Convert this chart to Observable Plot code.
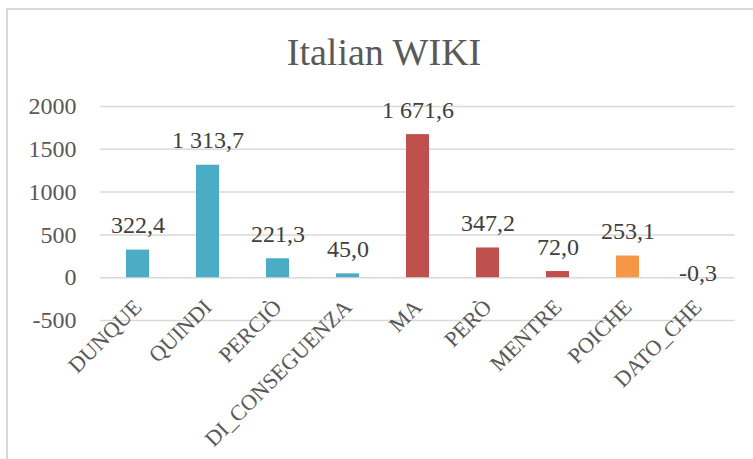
<!DOCTYPE html>
<html>
<head>
<meta charset="utf-8">
<script src="https://cdn.jsdelivr.net/npm/d3@7"></script>
<script src="https://cdn.jsdelivr.net/npm/@observablehq/plot@0.6"></script>
<style>
  html, body { margin: 0; padding: 0; background: #fff; }
  body { width: 753px; height: 459px; overflow: hidden; }
  #wrap {
    margin: 8px 0 0 6px;
    width: 745px;
    border-top: 2px solid #d9d9d9;
    border-left: 2px solid #d9d9d9;
    font-family: "Liberation Serif", serif;
  }
  #title {
    box-sizing: border-box;
    height: 70px;
    padding: 22.5px 0 0 7px;
    text-align: center;
    font-size: 38px;
    line-height: 38px;
    color: #595959;
    white-space: nowrap;
  }
  #plot svg { display: block; }
</style>
</head>
<body>
<div id="wrap">
  <div id="title"></div>
  <div id="plot"></div>
</div>
<script>
// Connective frequencies in the Italian Wikipedia corpus
const titleText = "Italian WIKI";
const categories = ["DUNQUE", "QUINDI", "PERCIÒ", "DI_CONSEGUENZA", "MA", "PERÒ", "MENTRE", "POICHE", "DATO_CHE"];
const values = [322.4, 1313.7, 221.3, 45.0, 1671.6, 347.2, 72.0, 253.1, -0.3];
const groups = ["conclusive", "conclusive", "conclusive", "conclusive", "adversative", "adversative", "adversative", "causal", "causal"];
const groupOrder = ["conclusive", "adversative", "causal"];
const yTicks = [-500, 0, 500, 1000, 1500, 2000];

const data = categories.map((c, i) => ({category: c, value: values[i], group: groups[i]}));

// Numbers like "1 671,6": space for thousands, comma for decimals
const fmt = d3.formatLocale({decimal: ",", thousands: " ", grouping: [3], currency: ["", ""], minus: "-"}).format(",.1f");

document.getElementById("title").textContent = titleText;

const chart = Plot.plot({
  width: 745,
  height: 379,
  marginTop: 26,
  marginBottom: 139,
  marginLeft: 92,
  marginRight: 18.5,
  style: {fontFamily: '"Liberation Serif", serif', fontSize: "24px", color: "#595959", background: "transparent", overflow: "visible"},
  x: {domain: categories, paddingInner: 0.67, paddingOuter: 0.335, axis: null},
  y: {domain: [-500, 2000], label: null},
  color: {domain: groupOrder, range: ["#4BACC6", "#C0504D", "#F79646"]},
  marks: [
    Plot.ruleY(yTicks, {stroke: "#d9d9d9", strokeWidth: 1.5}),
    Plot.axisY(yTicks, {tickSize: 0, tickPadding: 24, tickFormat: d => String(d), fill: "#595959", fontSize: 24, label: null}),
    Plot.barY(data, {x: "category", y: "value", fill: "group"}),
    Plot.text(data.filter(d => d.value >= 0), {
      x: "category", y: "value", text: d => fmt(d.value),
      lineAnchor: "bottom", dy: -17, fill: "#404040", fontSize: 24
    }),
    Plot.text(data.filter(d => d.value < 0), {
      x: "category", y: "value", text: d => fmt(d.value),
      lineAnchor: "bottom", dy: 3, fill: "#404040", fontSize: 24
    }),
    Plot.text(data, {
      x: "category", frameAnchor: "bottom", text: "category",
      rotate: -45, textAnchor: "end", lineAnchor: "bottom",
      dx: 5, dy: -12, fill: "#595959", fontSize: 22
    })
  ]
});

document.getElementById("plot").appendChild(chart);
</script>
</body>
</html>
